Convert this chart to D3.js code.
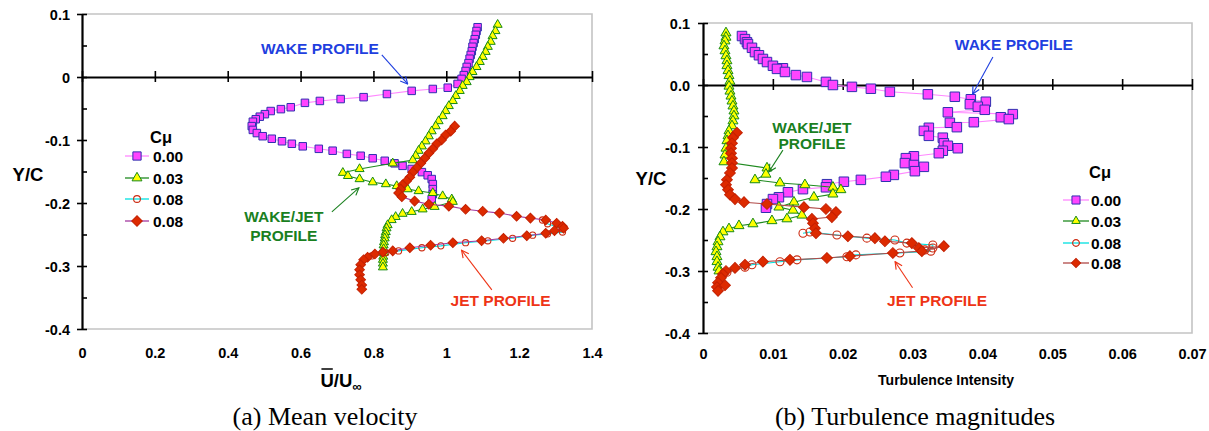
<!DOCTYPE html>
<html><head><meta charset="utf-8">
<script src="https://cdn.jsdelivr.net/npm/d3@7"></script>
<style>
body{margin:0;background:#fff}
svg{display:block}
text{font-family:"Liberation Sans",Arial,sans-serif;font-weight:bold}
</style>
</head><body>
<svg id="c" width="1209" height="431"></svg>
<script>
// ---------------- DATA ----------------
const legendLabels = ["0.00", "0.03", "0.08", "0.08"];
const yTicks = [-0.4, -0.3, -0.2, -0.1, 0, 0.1];
const yMinorTicks = [-0.35, -0.25, -0.15, -0.05, 0.05];
const yTickLabelsA = ["-0.4", "-0.3", "-0.2", "-0.1", "0", "0.1"];
const yTickLabelsB = ["-0.4", "-0.3", "-0.2", "-0.1", "0.0", "0.1"];
const xTicksA = [0, 0.2, 0.4, 0.6, 0.8, 1.0, 1.2, 1.4];
const xTickLabelsA = ["0", "0.2", "0.4", "0.6", "0.8", "1", "1.2", "1.4"];
const xTicksB = [0, 0.01, 0.02, 0.03, 0.04, 0.05, 0.06, 0.07];
const xTickLabelsB = ["0", "0.01", "0.02", "0.03", "0.04", "0.05", "0.06", "0.07"];

// (a) Mean velocity U/Uinf vs Y/C
const meanCmu000 = [[1.086,0.079],[1.083,0.073],[1.081,0.067],[1.078,0.060],[1.075,0.054],[1.072,0.048],[1.070,0.041],[1.067,0.035],[1.064,0.029],[1.061,0.022],[1.056,0.016],[1.053,0.0095],[1.048,0.003],[1.042,-0.003],[1.031,-0.011],[1.004,-0.017],[0.963,-0.019],[0.905,-0.022],[0.837,-0.027],[0.773,-0.032],[0.710,-0.035],[0.653,-0.038],[0.612,-0.041],[0.573,-0.048],[0.546,-0.051],[0.518,-0.054],[0.502,-0.059],[0.488,-0.063],[0.477,-0.067],[0.469,-0.071],[0.466,-0.078],[0.469,-0.084],[0.480,-0.089],[0.496,-0.094],[0.521,-0.098],[0.549,-0.102],[0.576,-0.106],[0.606,-0.110],[0.650,-0.114],[0.688,-0.117],[0.727,-0.122],[0.765,-0.125],[0.798,-0.129],[0.831,-0.133],[0.858,-0.137],[0.880,-0.141],[0.905,-0.146],[0.933,-0.151],[0.949,-0.156],[0.960,-0.162],[0.963,-0.170],[0.963,-0.178],[0.963,-0.186],[0.960,-0.194]];
const meanCmu003 = [[1.141,0.083],[1.135,0.073],[1.127,0.065],[1.122,0.056],[1.114,0.048],[1.108,0.040],[1.100,0.032],[1.092,0.024],[1.083,0.016],[1.072,0.008],[1.064,0.000],[1.056,-0.008],[1.045,-0.014],[1.037,-0.022],[1.026,-0.030],[1.018,-0.038],[1.007,-0.046],[0.998,-0.054],[0.990,-0.062],[0.979,-0.070],[0.971,-0.078],[0.960,-0.086],[0.952,-0.094],[0.943,-0.102],[0.933,-0.110],[0.924,-0.117],[0.916,-0.125],[0.908,-0.132],[0.853,-0.137],[0.762,-0.146],[0.716,-0.152],[0.730,-0.157],[0.762,-0.162],[0.798,-0.167],[0.834,-0.170],[0.864,-0.173],[0.894,-0.178],[0.924,-0.181],[0.963,-0.184],[0.990,-0.189],[1.015,-0.194],[1.018,-0.198],[0.968,-0.206],[0.935,-0.210],[0.905,-0.214],[0.880,-0.217],[0.861,-0.222],[0.850,-0.227],[0.839,-0.235],[0.836,-0.240],[0.834,-0.246],[0.832,-0.251],[0.831,-0.256],[0.829,-0.262],[0.828,-0.267],[0.828,-0.273],[0.828,-0.279],[0.827,-0.285],[0.826,-0.290],[0.826,-0.296],[0.826,-0.302]];
const meanCmu008a = [[1.264,-0.227],[1.278,-0.233],[1.319,-0.241],[1.319,-0.246],[1.278,-0.249],[1.237,-0.251],[1.182,-0.256],[1.114,-0.260],[1.053,-0.263],[0.985,-0.268],[0.933,-0.271],[0.869,-0.276],[0.834,-0.279],[0.795,-0.284]];
const meanCmu008b = [[1.023,-0.078],[1.012,-0.086],[0.998,-0.092],[0.987,-0.100],[0.974,-0.106],[0.963,-0.114],[0.952,-0.121],[0.941,-0.129],[0.930,-0.137],[0.919,-0.144],[0.908,-0.151],[0.900,-0.159],[0.891,-0.165],[0.880,-0.171],[0.875,-0.178],[0.869,-0.184],[0.878,-0.190],[0.913,-0.197],[0.952,-0.202],[1.007,-0.205],[1.053,-0.210],[1.100,-0.213],[1.146,-0.216],[1.193,-0.221],[1.231,-0.224],[1.273,-0.227],[1.303,-0.232],[1.319,-0.237],[1.322,-0.240],[1.297,-0.244],[1.273,-0.248],[1.221,-0.252],[1.157,-0.256],[1.097,-0.260],[1.018,-0.263],[0.957,-0.267],[0.900,-0.271],[0.853,-0.276],[0.826,-0.278],[0.804,-0.281],[0.784,-0.286],[0.773,-0.290],[0.765,-0.298],[0.762,-0.306],[0.762,-0.314],[0.765,-0.322],[0.768,-0.330],[0.768,-0.337]];

// (b) Turbulence intensity vs Y/C
const turbCmu000 = [[0.00558,0.079],[0.00601,0.074],[0.00629,0.069],[0.00644,0.066],[0.00701,0.060],[0.00744,0.053],[0.00801,0.048],[0.00858,0.042],[0.00916,0.037],[0.01001,0.031],[0.01144,0.027],[0.01059,0.026],[0.01173,0.021],[0.01330,0.016],[0.01488,0.013],[0.01760,0.005],[0.01860,0.000],[0.02132,-0.003],[0.02403,-0.006],[0.02675,-0.011],[0.03219,-0.015],[0.03605,-0.019],[0.03834,-0.023],[0.04049,-0.027],[0.03820,-0.031],[0.03934,-0.035],[0.04034,-0.040],[0.03505,-0.044],[0.04435,-0.047],[0.04263,-0.052],[0.04378,-0.055],[0.03877,-0.060],[0.03534,-0.061],[0.03634,-0.068],[0.03233,-0.069],[0.03162,-0.074],[0.03233,-0.082],[0.03433,-0.085],[0.03448,-0.094],[0.03505,-0.098],[0.03648,-0.102],[0.03433,-0.106],[0.03376,-0.110],[0.03019,-0.115],[0.02904,-0.118],[0.02890,-0.126],[0.03019,-0.129],[0.03162,-0.132],[0.03033,-0.139],[0.02732,-0.145],[0.02618,-0.148],[0.02260,-0.153],[0.02017,-0.156],[0.01774,-0.160],[0.01760,-0.165],[0.01431,-0.168],[0.01216,-0.173],[0.01087,-0.181],[0.01001,-0.184],[0.00916,-0.192],[0.00901,-0.198]];
const turbCmu003 = [[0.00329,0.084],[0.00329,0.077],[0.00315,0.071],[0.00300,0.063],[0.00315,0.055],[0.00329,0.047],[0.00343,0.039],[0.00343,0.031],[0.00358,0.023],[0.00372,0.015],[0.00386,0.006],[0.00372,-0.002],[0.00386,-0.010],[0.00401,-0.018],[0.00415,-0.026],[0.00429,-0.034],[0.00443,-0.042],[0.00443,-0.050],[0.00429,-0.058],[0.00415,-0.066],[0.00372,-0.074],[0.00358,-0.082],[0.00343,-0.090],[0.00329,-0.102],[0.00315,-0.113],[0.00300,-0.124],[0.00916,-0.134],[0.00901,-0.144],[0.00744,-0.153],[0.01102,-0.158],[0.01459,-0.161],[0.01860,-0.165],[0.01974,-0.169],[0.01860,-0.176],[0.01588,-0.181],[0.01302,-0.189],[0.01087,-0.197],[0.01288,-0.202],[0.01416,-0.210],[0.01202,-0.216],[0.00987,-0.219],[0.00715,-0.224],[0.00515,-0.227],[0.00372,-0.232],[0.00286,-0.237],[0.00243,-0.245],[0.00215,-0.253],[0.00200,-0.261],[0.00186,-0.269],[0.00200,-0.277],[0.00200,-0.285],[0.00215,-0.294],[0.00229,-0.300]];
const turbCmu008a = [[0.01431,-0.239],[0.01531,-0.237],[0.01917,-0.242],[0.02346,-0.247],[0.02747,-0.250],[0.02918,-0.255],[0.03290,-0.258],[0.03290,-0.263],[0.03176,-0.266],[0.03262,-0.268],[0.02818,-0.271],[0.02189,-0.274],[0.02060,-0.277],[0.01345,-0.282],[0.01102,-0.285],[0.00701,-0.290],[0.00601,-0.294],[0.00343,-0.302]];
const turbCmu008b = [[0.00486,-0.077],[0.00429,-0.085],[0.00415,-0.094],[0.00401,-0.102],[0.00401,-0.110],[0.00415,-0.118],[0.00415,-0.126],[0.00415,-0.134],[0.00386,-0.142],[0.00343,-0.153],[0.00329,-0.161],[0.00358,-0.169],[0.00386,-0.177],[0.00458,-0.184],[0.00587,-0.189],[0.00916,-0.192],[0.01445,-0.197],[0.01760,-0.200],[0.01903,-0.205],[0.01845,-0.213],[0.01559,-0.216],[0.01574,-0.223],[0.01602,-0.231],[0.01617,-0.239],[0.02074,-0.244],[0.02461,-0.247],[0.02604,-0.252],[0.02990,-0.255],[0.03090,-0.263],[0.03448,-0.260],[0.03133,-0.268],[0.02718,-0.271],[0.02103,-0.276],[0.01774,-0.279],[0.01245,-0.282],[0.00858,-0.285],[0.00601,-0.290],[0.00458,-0.295],[0.00329,-0.300],[0.00286,-0.305],[0.00258,-0.311],[0.00215,-0.319],[0.00200,-0.326],[0.00315,-0.323],[0.00215,-0.332]];

// ---------------- DRAW ----------------
const svg = d3.select("#c");
const defs = svg.append("defs");
function arrowMarker(id, color){
  defs.append("marker").attr("id", id).attr("viewBox", "0 -5 10 10")
    .attr("refX", 9).attr("refY", 0).attr("markerWidth", 9).attr("markerHeight", 9)
    .attr("markerUnits", "userSpaceOnUse").attr("orient", "auto")
    .append("path").attr("d", "M1,-4L9,0L1,4").attr("fill", "none")
    .attr("stroke", color).attr("stroke-width", 1.3);
}
const C_BLUE = "#1f3fdf", C_GREEN = "#1a801f", C_RED = "#ee3416";
arrowMarker("aBlue", C_BLUE); arrowMarker("aGreen", C_GREEN); arrowMarker("aRed", C_RED);

function styles(k, diamondLine){
  return [
    {type:"square", fill:"#ff44ff", stroke:"#3030b0", line:"#ff88ff", size:k.sq},
    {type:"triangle", fill:"#ffff00", stroke:"#168a16", line:"#1f8a1f", size:k.tri},
    {type:"circle", fill:"none", stroke:"#cc2a10", line:"#00e0e0", size:k.cir},
    {type:"diamond", fill:"#dd2a00", stroke:"#c42000", line:diamondLine, size:k.dia}
  ];
}
function symPath(st){
  const s = st.size;
  if (st.type === "square") return d3.symbol().type(d3.symbolSquare).size(s*s)();
  if (st.type === "triangle") return d3.symbol().type(d3.symbolTriangle).size(0.433*s*s)();
  if (st.type === "circle") return d3.symbol().type(d3.symbolCircle).size(Math.PI*s*s/4)();
  return d3.symbol().type(d3.symbolSquare).size(s*s)();
}
function drawMarker(g, st, px, py){
  g.append("path").attr("d", symPath(st))
    .attr("transform", `translate(${px},${py})` + (st.type === "diamond" ? " rotate(45)" : ""))
    .attr("fill", st.fill).attr("stroke", st.stroke).attr("stroke-width", st.type === "circle" ? 1.1 : 1);
}

function panel(cfg){
  const x = d3.scaleLinear().domain(cfg.xDomain).range(cfg.xRange);
  const y = d3.scaleLinear().domain([-0.4, 0.1]).range(cfg.yRange);
  const g = svg.append("g");
  const x0 = cfg.xRange[0], x1 = cfg.xRange[1], yT = y(0.1), yB = y(-0.4);

  // frame (top, right, bottom) in grey
  g.append("path").attr("d", `M${x0},${yT}H${x1}V${yB}H${x0}`)
    .attr("fill", "none").attr("stroke", "#c4c4c4").attr("stroke-width", 1.6);

  // y axis with crossing major ticks
  const ya = g.append("g").attr("transform", `translate(${x0},0)`)
    .call(d3.axisLeft(y).tickValues(yTicks).tickSize(5).tickSizeOuter(0).tickFormat(""));
  ya.select(".domain").attr("stroke", "#000").attr("stroke-width", 2.2);
  ya.selectAll(".tick line").attr("x1", 5).attr("x2", -5).attr("stroke-width", 1.6);
  const ym = g.append("g").attr("transform", `translate(${x0},0)`)
    .call(d3.axisRight(y).tickValues(yMinorTicks).tickSize(5).tickFormat(""));
  ym.select(".domain").remove();
  ym.selectAll(".tick line").attr("stroke-width", 1.6);

  // x axis at Y/C = 0
  const xa = g.append("g").attr("transform", `translate(0,${y(0)})`)
    .call(d3.axisBottom(x).tickValues(cfg.xTicks).tickSize(5).tickSizeOuter(0).tickFormat(""));
  xa.select(".domain").attr("stroke", "#000").attr("stroke-width", 2.2);
  xa.selectAll(".tick line").attr("y1", -6).attr("y2", 5).attr("stroke-width", 1.6);

  // tick labels
  const yl = g.append("g").attr("transform", `translate(${cfg.yLabelX},0)`)
    .call(d3.axisLeft(y).tickValues(yTicks).tickSize(0).tickPadding(0)
      .tickFormat((d, i) => cfg.yLabels[i]));
  yl.select(".domain").remove();
  yl.selectAll("text").attr("font-size", 14.5).attr("fill", "#000").attr("dy", null)
    .attr("dominant-baseline", "central").style("font-family", '"Liberation Sans",Arial,sans-serif').style("font-weight", "bold");
  const xl = g.append("g").attr("transform", `translate(0,${cfg.xLabelY})`)
    .call(d3.axisBottom(x).tickValues(cfg.xTicks).tickSize(0).tickPadding(0)
      .tickFormat((d, i) => cfg.xLabels[i]));
  xl.select(".domain").remove();
  xl.selectAll("text").attr("font-size", 14.5).attr("fill", "#000").attr("y", 0).attr("dy", null)
    .attr("dominant-baseline", "central").style("font-family", '"Liberation Sans",Arial,sans-serif').style("font-weight", "bold");

  // series
  const sts = cfg.styles;
  const line = d3.line().x(d => x(d[0])).y(d => y(d[1]));
  cfg.series.forEach((data, i) => {
    const st = sts[i];
    g.append("path").attr("d", line(data)).attr("fill", "none")
      .attr("stroke", st.line).attr("stroke-width", 1.1);
    const mg = g.append("g");
    data.forEach(d => drawMarker(mg, st, x(d[0]), y(d[1])));
  });

  // Y/C label
  g.append("text").attr("x", cfg.yTitle[0]).attr("y", cfg.yTitle[1]).attr("text-anchor", "middle")
    .attr("dominant-baseline", "central").attr("font-size", 18.5).text("Y/C");

  // legend
  const lg = g.append("g");
  lg.append("text").attr("x", cfg.legend.cx).attr("y", cfg.legend.cy).attr("text-anchor", "middle")
    .attr("dominant-baseline", "central").attr("font-size", 16.5).text("Cμ");
  legendLabels.forEach((lab, i) => {
    const yy = cfg.legend.rows[i], st = sts[i];
    lg.append("line").attr("x1", cfg.legend.lx0).attr("x2", cfg.legend.lx1).attr("y1", yy).attr("y2", yy)
      .attr("stroke", st.line).attr("stroke-width", 1.3);
    drawMarker(lg, Object.assign({}, st, {size: st.size * cfg.legend.k}), (cfg.legend.lx0 + cfg.legend.lx1) / 2, yy);
    lg.append("text").attr("x", cfg.legend.tx).attr("y", yy).attr("dominant-baseline", "central")
      .attr("font-size", 15.5).text(lab);
  });

  // annotations (positions in data coordinates)
  cfg.notes.forEach(n => {
    n.lines.forEach((t, j) => {
      g.append("text").attr("x", x(n.at[0])).attr("y", y(n.at[1]) + j * n.lh)
        .attr("text-anchor", "middle").attr("dominant-baseline", "central")
        .attr("font-size", 15.5).attr("fill", n.color).text(t);
    });
    g.append("line").attr("x1", x(n.from[0])).attr("y1", y(n.from[1]))
      .attr("x2", x(n.to[0])).attr("y2", y(n.to[1]))
      .attr("stroke", n.color).attr("stroke-width", 1.1).attr("marker-end", `url(#${n.marker})`);
  });

  return {x, y, g};
}

// Panel (a)
const pa = panel({
  xDomain: [0, 1.4], xRange: [82, 592], yRange: [329, 14],
  xTicks: xTicksA, xLabels: xTickLabelsA, yLabels: yTickLabelsA,
  yLabelX: 70, xLabelY: 353, yTitle: [28, 174],
  styles: styles({sq: 7.5, tri: 9, cir: 6.2, dia: 6.8}, "#a23aa0"),
  series: [meanCmu000, meanCmu003, meanCmu008a, meanCmu008b],
  legend: {cx: 161, cy: 137, lx0: 125, lx1: 149, tx: 153, rows: [156, 178, 199, 221], k: 1.1},
  notes: [
    {lines: ["WAKE PROFILE"], at: [0.653, 0.046], lh: 0, color: C_BLUE, from: [0.823, 0.035], to: [0.894, -0.011], marker: "aBlue"},
    {lines: ["WAKE/JET", "PROFILE"], at: [0.554, -0.222], lh: 19, color: C_GREEN, from: [0.686, -0.214], to: [0.760, -0.176], marker: "aGreen"},
    {lines: ["JET PROFILE"], at: [1.149, -0.354], lh: 0, color: C_RED, from: [1.125, -0.338], to: [1.042, -0.275], marker: "aRed"}
  ]
});

// x title of (a): U-bar / U-infinity
const xt = svg.append("text").attr("x", 341).attr("y", 387).attr("text-anchor", "middle").attr("font-size", 18.5);
xt.append("tspan").text("U/U");
xt.append("tspan").attr("font-size", 13).attr("dy", 4).text("∞");
{
  const bb = xt.node().getBBox();
  const uw = xt.node().getSubStringLength(0, 1);
  svg.append("line").attr("x1", bb.x + 1).attr("x2", bb.x + uw - 1)
    .attr("y1", bb.y - 1).attr("y2", bb.y - 1).attr("stroke", "#000").attr("stroke-width", 1.5);
}

// Panel (b)
const pb = panel({
  xDomain: [0, 0.07], xRange: [703, 1192], yRange: [333, 23],
  xTicks: xTicksB, xLabels: xTickLabelsB, yLabels: yTickLabelsB,
  yLabelX: 690, xLabelY: 354, yTitle: [651, 178],
  styles: styles({sq: 9.5, tri: 10, cir: 8, dia: 7.6}, "#b04a48"),
  series: [turbCmu000, turbCmu003, turbCmu008a, turbCmu008b],
  legend: {cx: 1100, cy: 172, lx0: 1063, lx1: 1089, tx: 1091, rows: [200, 221, 243, 263], k: 0.85},
  notes: [
    {lines: ["WAKE PROFILE"], at: [0.0445, 0.066], lh: 0, color: C_BLUE, from: [0.0415, 0.045], to: [0.0386, -0.0145], marker: "aBlue"},
    {lines: ["WAKE/JET", "PROFILE"], at: [0.0156, -0.068], lh: 16.5, color: C_GREEN, from: [0.01144, -0.105], to: [0.00944, -0.140], marker: "aGreen"},
    {lines: ["JET PROFILE"], at: [0.0335, -0.347], lh: 0, color: C_RED, from: [0.0300, -0.327], to: [0.0275, -0.285], marker: "aRed"}
  ]
});

svg.append("text").attr("x", 946).attr("y", 380).attr("text-anchor", "middle")
  .attr("dominant-baseline", "central").attr("font-size", 14).text("Turbulence Intensity");

// captions
svg.append("text").attr("x", 325).attr("y", 425).attr("text-anchor", "middle")
  .style("font-family", '"Liberation Serif","Times New Roman",serif').style("font-weight", "normal")
  .attr("font-size", 26).text("(a) Mean velocity");
svg.append("text").attr("x", 915).attr("y", 425).attr("text-anchor", "middle")
  .style("font-family", '"Liberation Serif","Times New Roman",serif').style("font-weight", "normal")
  .attr("font-size", 26).text("(b) Turbulence magnitudes");
</script>
</body></html>
